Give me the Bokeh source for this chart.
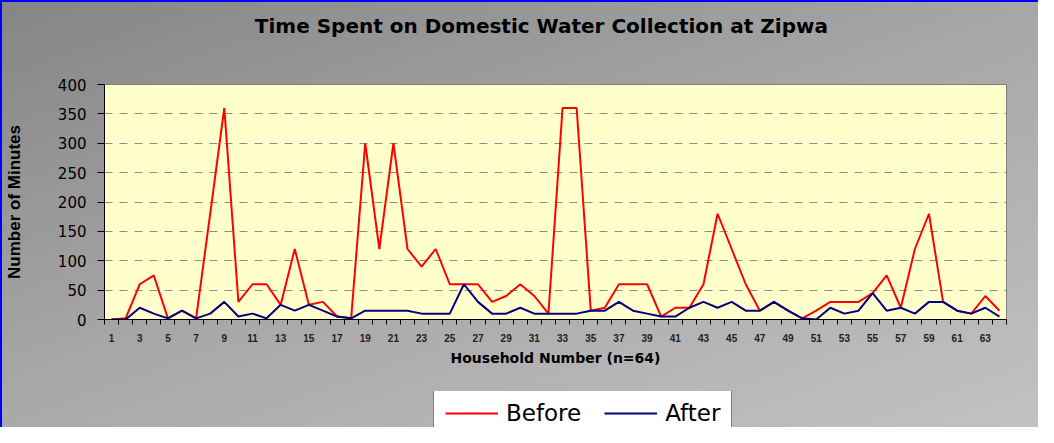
from bokeh.plotting import figure
from bokeh.models import Range1d, FixedTicker, Legend, Label
from bokeh.layouts import column
from bokeh.embed import file_html
from bokeh.resources import INLINE

# ---- data ----
households = list(range(1, 65))
before = [0, 2, 60, 75, 2, 15, 2, 180, 360, 30,
          60, 60, 25, 120, 25, 30, 5, 2, 300, 120,
          300, 120, 90, 120, 60, 60, 60, 30, 40, 60,
          40, 10, 360, 360, 15, 20, 60, 60, 60, 5,
          20, 20, 60, 180, 120, 60, 15, 30, 15, 2,
          15, 30, 30, 30, 45, 75, 20, 120, 180, 30,
          15, 10, 40, 15]
after = [0, 0, 20, 10, 2, 15, 2, 10, 30, 5,
         10, 2, 25, 15, 25, 15, 5, 2, 15, 15,
         15, 15, 10, 10, 10, 60, 30, 10, 10, 20,
         10, 10, 10, 10, 15, 15, 30, 15, 10, 5,
         5, 20, 30, 20, 30, 15, 15, 30, 15, 2,
         0, 20, 10, 15, 45, 15, 20, 10, 30, 30,
         15, 10, 20, 5]
x_tick_labels = list(range(1, 64, 2))
y_ticks = [0, 50, 100, 150, 200, 250, 300, 350, 400]
title_text = "Time Spent on Domestic Water Collection at Zipwa"
x_label = "Household Number (n=64)"
y_label = "Number of Minutes"
series_names = ["Before", "After"]
series_colors = ["#FF0000", "#000080"]

W = 1038
x_range = Range1d(0.5, 64.5)


def strip(height):
    f = figure(width=W, height=height, x_range=x_range, y_range=Range1d(0, 1),
               output_backend="svg", toolbar_location=None,
               x_axis_type=None, y_axis_type=None,
               min_border_left=0, min_border_right=0, min_border_top=0, min_border_bottom=0)
    f.border_fill_alpha = 0
    f.background_fill_alpha = 0
    f.outline_line_color = None
    f.xgrid.visible = False
    f.ygrid.visible = False
    return f


# ---- title strip ----
p0 = strip(50)
p0.add_layout(Label(x=31.5, y=0.5, text=title_text, text_align="center",
                    text_baseline="middle", text_font="DejaVu Sans",
                    text_font_style="bold", text_font_size="20px",
                    text_color="black"))

# ---- main chart ----
p = figure(width=W, height=341,
           x_range=x_range, y_range=Range1d(0, 400),
           output_backend="svg", toolbar_location=None,
           min_border_left=104, min_border_right=32,
           min_border_top=34, min_border_bottom=72)

p.border_fill_alpha = 0
p.background_fill_color = "#FFFFCC"
p.outline_line_color = "#808080"
p.outline_line_width = 1

p.line(households, before, line_color=series_colors[0], line_width=2)
p.line(households, after, line_color=series_colors[1], line_width=2)

# x axis
boundaries = [h - 0.5 for h in households] + [households[-1] + 0.5]
xa = p.xaxis[0]
xa.ticker = FixedTicker(ticks=x_tick_labels, minor_ticks=boundaries)
xa.major_tick_out = 0
xa.major_tick_in = 0
xa.minor_tick_out = 5
xa.minor_tick_in = 0
xa.minor_tick_line_color = "black"
xa.axis_line_color = "black"
xa.major_label_text_font = "Liberation Sans"
xa.major_label_text_font_style = "bold"
xa.major_label_text_font_size = "10px"
xa.major_label_text_color = "#222222"
xa.major_label_standoff = 9
xa.axis_label = x_label
xa.axis_label_text_font = "DejaVu Sans"
xa.axis_label_text_font_style = "bold"
xa.axis_label_text_font_size = "14px"
xa.axis_label_text_color = "black"
xa.axis_label_standoff = 5

# y axis
ya = p.yaxis[0]
ya.ticker = FixedTicker(ticks=y_ticks)
ya.major_tick_out = 7
ya.major_tick_in = 0
ya.minor_tick_out = 0
ya.minor_tick_in = 0
ya.axis_line_color = "black"
ya.major_tick_line_color = "black"
ya.major_label_text_font = "DejaVu Sans"
ya.major_label_text_font_size = "15px"
ya.major_label_text_color = "black"
ya.major_label_standoff = 11
ya.axis_label = y_label
ya.axis_label_text_font = "Liberation Sans"
ya.axis_label_text_font_style = "bold"
ya.axis_label_text_font_size = "17px"
ya.axis_label_text_color = "black"
ya.axis_label_standoff = 31

p.xgrid.visible = False
p.ygrid.ticker = FixedTicker(ticks=y_ticks)
p.ygrid.grid_line_color = "#8c8c8c"
p.ygrid.grid_line_dash = "8 7"
p.ygrid.grid_line_width = 1

# ---- legend strip ----
p2 = strip(36)
nan = float("nan")
leg_renderers = [p2.line(x=[nan], y=[nan], line_color=c, line_width=2) for c in series_colors]

lg = Legend(items=[(n, [r]) for n, r in zip(series_names, leg_renderers)])
lg.location = (329, -11)
lg.orientation = "horizontal"
lg.label_text_font = "DejaVu Sans"
lg.label_text_font_size = "23px"
lg.label_text_color = "black"
lg.label_height = 8
lg.glyph_width = 53
lg.glyph_height = 8
lg.label_standoff = 8
lg.spacing = 23
lg.padding = 11
lg.margin = 0
lg.border_line_color = "black"
lg.border_line_width = 1
lg.background_fill_color = "white"
lg.background_fill_alpha = 1
p2.add_layout(lg, "center")

layout = column(p0, p, p2, spacing=0,
                styles={"background": "linear-gradient(160deg, #858585 0%, #a8a8a8 50%, #c2c2c2 100%)",
                        "box-shadow": "inset 2px 2px 0 0 #0000ff"})

open("out.html", "w").write(file_html(layout, INLINE))
